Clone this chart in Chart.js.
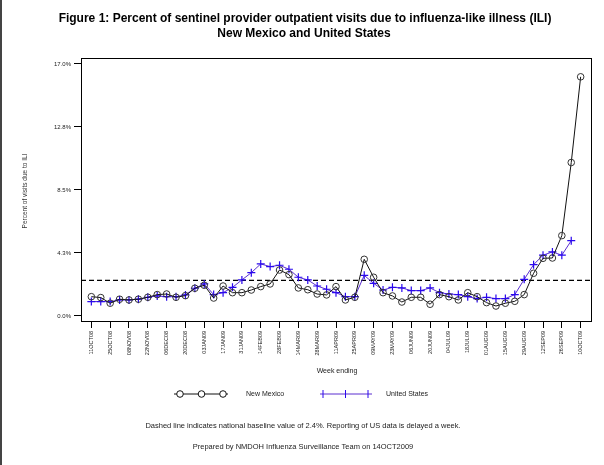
<!DOCTYPE html>
<html>
<head>
<meta charset="utf-8">
<script src="https://cdn.jsdelivr.net/npm/chart.js@4"></script>
<style>
  html, body { margin: 0; padding: 0; background: #fff; }
  #wrap { position: relative; width: 604px; height: 465px; }
</style>
</head>
<body>
<div id="wrap"><canvas id="myChart" width="604" height="465"></canvas></div>
<script>
// week-ending tick labels, one every two weeks
let weekLabels = ['11OCT08', '25OCT08', '08NOV08', '22NOV08', '06DEC08', '20DEC08', '03JAN09',
    '17JAN09', '31JAN09', '14FEB09', '28FEB09', '14MAR09', '28MAR09', '11APR09', '25APR09',
    '09MAY09', '23MAY09', '06JUN09', '20JUN09', '04JUL09', '18JUL09', '01AUG09', '15AUG09',
    '29AUG09', '12SEP09', '26SEP09', '10OCT09']

// weekly % of visits due to ILI, 11OCT08 .. 10OCT09
let newMexico = [1.30, 1.24, 0.86, 1.13, 1.08, 1.13, 1.26, 1.44, 1.48, 1.26,
    1.37, 1.87, 2.07, 1.21, 2.02, 1.57, 1.57, 1.75, 1.98, 2.16,
    3.10, 2.79, 1.89, 1.77, 1.48, 1.42, 1.98, 1.08, 1.26, 3.82,
    2.61, 1.57, 1.35, 0.94, 1.26, 1.26, 0.79, 1.44, 1.30, 1.08,
    1.57, 1.30, 0.90, 0.67, 0.86, 0.99, 1.44, 2.88, 3.89, 3.91,
    5.42, 10.35, 16.13]

// US reporting is a week behind, so the last week is empty
let unitedStates = [0.97, 0.97, 0.97, 1.08, 1.08, 1.13, 1.26, 1.35, 1.30, 1.30,
    1.42, 1.87, 2.16, 1.44, 1.57, 1.93, 2.43, 2.92, 3.51, 3.33,
    3.42, 3.15, 2.61, 2.43, 2.02, 1.80, 1.57, 1.30, 1.30, 2.74,
    2.20, 1.75, 1.93, 1.89, 1.71, 1.71, 1.89, 1.57, 1.48, 1.44,
    1.30, 1.17, 1.26, 1.17, 1.17, 1.44, 2.47, 3.46, 4.10, 4.32,
    4.10, 5.08, null]

let baseline = 2.4

let yTickValues = [0, 4.25, 8.5, 12.75, 17]
let yTickLabels = ['0.0%', '4.3%', '8.5%', '12.8%', '17.0%']

let xMin = -1.1
let xMax = newMexico.length - 1 + 1.1

let toPoints = arr => arr.map((v, i) => ({x: i, y: v}))

let FONT = "'Liberation Sans', Arial, sans-serif"
let NM_COLOR = '#111'
let US_LINE = '#5a2fd0'
let US_POINT = '#2a08ee'

// titles, legend and footnotes around the plot box
let decorations = {
    id: 'decorations',
    afterDraw(chart) {
        let c = chart.ctx
        let a = chart.chartArea
        c.save()

        // left frame edge
        c.fillStyle = '#444'
        c.fillRect(0, 0, 2, 465)

        // plot box
        c.strokeStyle = '#000'
        c.lineWidth = 1
        c.setLineDash([])
        c.strokeRect(Math.round(a.left) + 0.5, Math.round(a.top) + 0.5,
            Math.round(a.right - a.left), Math.round(a.bottom - a.top))

        c.fillStyle = '#000'
        c.textAlign = 'center'
        c.textBaseline = 'middle'
        c.font = 'bold 12px ' + FONT
        c.fillText('Figure 1: Percent of sentinel provider outpatient visits due to influenza-like illness (ILI)', 305, 19, 506)
        c.fillText('New Mexico and United States', 304, 34)

        // y axis title
        c.save()
        c.translate(25, 191)
        c.rotate(-Math.PI / 2)
        c.font = '6.5px ' + FONT
        c.fillStyle = '#333'
        c.fillText('Percent of visits due to ILI', 0, 0)
        c.restore()

        c.font = '7px ' + FONT
        c.fillStyle = '#222'
        c.fillText('Week ending', 337, 371)

        // legend
        let ly = 394
        c.strokeStyle = NM_COLOR
        c.beginPath(); c.moveTo(174, ly); c.lineTo(228, ly); c.stroke()
        c.fillStyle = '#fff'
        ;[180, 201.5, 223].forEach(x => {
            c.beginPath(); c.arc(x, ly, 3.3, 0, Math.PI * 2); c.fill(); c.stroke()
        })
        c.strokeStyle = US_LINE
        c.beginPath(); c.moveTo(320, ly); c.lineTo(372, ly); c.stroke()
        c.strokeStyle = US_POINT
        ;[323, 345.5, 368].forEach(x => {
            c.beginPath(); c.moveTo(x, ly - 4); c.lineTo(x, ly + 4); c.stroke()
        })
        c.fillStyle = '#222'
        c.textAlign = 'left'
        c.fillText('New Mexico', 246, ly)
        c.fillText('United States', 386, ly)

        c.textAlign = 'center'
        c.font = '7.5px ' + FONT
        c.fillText('Dashed line indicates national baseline value of 2.4%. Reporting of US data is delayed a week.', 303, 426, 322)
        c.fillText('Prepared by NMDOH Influenza Surveillance Team on 14OCT2009', 303, 447, 226)
        c.restore()
    }
}

let ctx = document.querySelector('#myChart')

let graphData = {
    type: 'line',
    data: {
        datasets: [{
            label: 'New Mexico',
            data: toPoints(newMexico),
            borderColor: NM_COLOR,
            borderWidth: 1,
            pointStyle: 'circle',
            pointRadius: 3.3,
            pointBorderWidth: 1,
            pointBorderColor: '#333',
            pointBackgroundColor: 'rgba(255,255,255,0)',
            tension: 0
        }, {
            label: 'United States',
            data: toPoints(unitedStates),
            borderColor: US_LINE,
            borderWidth: 1,
            pointStyle: 'cross',
            pointRadius: 4,
            pointBorderWidth: 1.2,
            pointBorderColor: US_POINT,
            spanGaps: false,
            tension: 0
        }, {
            label: 'Baseline',
            data: [{x: xMin, y: baseline}, {x: xMax, y: baseline}],
            borderColor: '#000',
            borderWidth: 1.2,
            borderDash: [5, 3],
            pointRadius: 0
        }]
    },
    options: {
        responsive: false,
        animation: false,
        devicePixelRatio: 1,
        layout: {padding: {left: 0, top: 58, right: 13, bottom: 104}},
        plugins: {
            legend: {display: false},
            title: {display: false},
            tooltip: {enabled: false}
        },
        scales: {
            x: {
                type: 'linear',
                min: xMin,
                max: xMax,
                afterFit: s => { s.height = 40 },
                afterBuildTicks: s => {
                    s.ticks = weekLabels.map((l, i) => ({value: i * 2}))
                },
                ticks: {
                    autoSkip: false,
                    minRotation: 90,
                    maxRotation: 90,
                    padding: 3,
                    color: '#222',
                    font: {size: 5.5, family: FONT},
                    callback: v => weekLabels[v / 2]
                },
                grid: {drawOnChartArea: false, tickLength: 7, color: '#000', tickWidth: 1},
                border: {display: false}
            },
            y: {
                min: -0.34,
                max: 17.4,
                afterFit: s => { s.width = 81 },
                afterBuildTicks: s => {
                    s.ticks = yTickValues.map(v => ({value: v}))
                },
                ticks: {
                    padding: 3,
                    color: '#222',
                    font: {size: 6, family: FONT},
                    callback: (v, i) => yTickLabels[yTickValues.indexOf(v)]
                },
                grid: {drawOnChartArea: false, tickLength: 7, color: '#000', tickWidth: 1},
                border: {display: false}
            }
        }
    },
    plugins: [decorations]
}

let myChart = new Chart(ctx, graphData)
</script>
</body>
</html>
